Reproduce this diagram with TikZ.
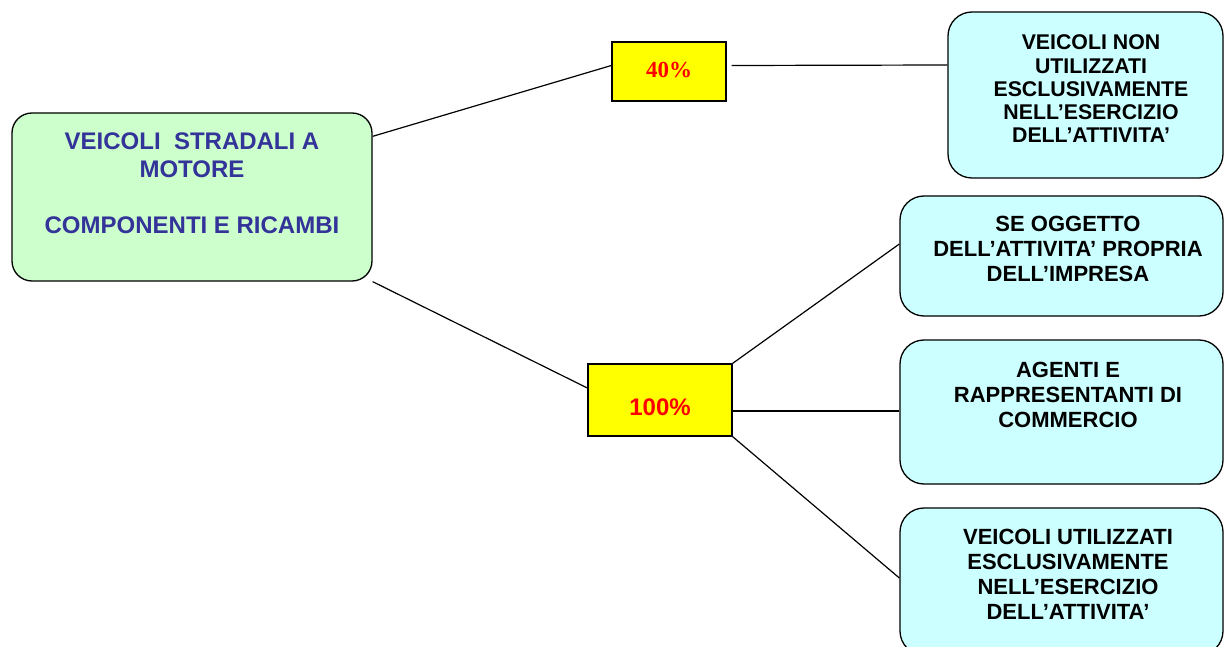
\documentclass[tikz,border=0pt]{standalone}
\usepackage{fontspec}
\setmainfont{Liberation Sans}
\newfontfamily\serifnum{Liberation Serif}
\usetikzlibrary{calc}
\definecolor{gfill}{HTML}{CCFFCC}
\definecolor{cfill}{HTML}{CCFFFF}
\definecolor{yfill}{HTML}{FFFF00}
\definecolor{bluetxt}{HTML}{333399}
\definecolor{redtxt}{HTML}{FF0000}
\tikzset{
  gbox/.style={draw=black, line width=1.3pt, fill=gfill, rounded corners=20pt, inner sep=0pt},
  cbox/.style={draw=black, line width=1.3pt, fill=cfill, rounded corners=24pt, inner sep=0pt},
  ybox/.style={draw=black, line width=1.3pt, fill=yfill, inner sep=0pt},
  gtext/.style={text=bluetxt, font=\fontsize{24}{28}\selectfont\bfseries, align=center, inner sep=0pt, anchor=north},
  ctext/.style={text=black, font=\fontsize{22}{24.8}\selectfont\bfseries, align=center, inner sep=0pt, anchor=north},
  conn/.style={draw=black, line width=1.2pt}
}
\begin{document}
\begin{tikzpicture}[x=1pt,y=-1pt]
\useasboundingbox (0,0) rectangle (1224,647);
% boxes
\node[gbox, minimum width=360pt, minimum height=168pt] (g) at (192,197) {};
\node[ybox, minimum width=114pt, minimum height=59pt] (p40) at (669,71.5) {};
\node[ybox, minimum width=144pt, minimum height=72pt] (p100) at (660,400) {};
\node[cbox, minimum width=275pt, minimum height=166pt] (b1) at (1085.5,95) {};
\node[cbox, minimum width=323pt, minimum height=120pt] (b2) at (1061.5,256) {};
\node[cbox, minimum width=323pt, minimum height=144pt] (b3) at (1061.5,412) {};
\node[cbox, minimum width=323pt, minimum height=147pt] (b4) at (1061.5,581.5) {};
% texts
\node[gtext] (gt) at (192,133) {VEICOLI\ \ STRADALI A\\MOTORE\\[28pt]COMPONENTI E RICAMBI};
\node[text=redtxt, font=\fontsize{23}{27}\selectfont\serifnum\bfseries, inner sep=0pt] (t40) at (669,70) {40\%};
\node[text=redtxt, font=\fontsize{24}{27}\selectfont\bfseries, inner sep=0pt] (t100) at (660,407) {100\%};
\node[ctext, font=\fontsize{21.3}{23.3}\selectfont\bfseries] (t1) at (1091,34.7) {VEICOLI NON\\UTILIZZATI\\ESCLUSIVAMENTE\\NELL’ESERCIZIO\\DELL’ATTIVITA’};
\node[ctext] (t2) at (1068,216.2) {SE OGGETTO\\DELL’ATTIVITA’ PROPRIA\\DELL’IMPRESA};
\node[ctext] (t3) at (1068,362.2) {AGENTI E\\RAPPRESENTANTI DI\\COMMERCIO};
\node[ctext] (t4) at (1068,529.2) {VEICOLI UTILIZZATI\\ESCLUSIVAMENTE\\NELL’ESERCIZIO\\DELL’ATTIVITA’};
% connectors
\draw[conn] ($(g.north east)+(0,24)$) -- ($(p40.west)+(0,-6)$);
\draw[conn] ($(p40.east)+(5,-6)$) -- ($(b1.west)+(0,-30)$);
\draw[conn] (g.south east) -- ($(p100.west)+(0,-12)$);
\draw[conn] (p100.north east) -- ($(b2.west)+(0,-12)$);
\draw[conn] ($(p100.east)+(0,11)$) -- ($(b3.west)+(0,-1)$);
\draw[conn] (p100.south east) -- ($(b4.west)+(0,-3.5)$);
\end{tikzpicture}
\end{document}
